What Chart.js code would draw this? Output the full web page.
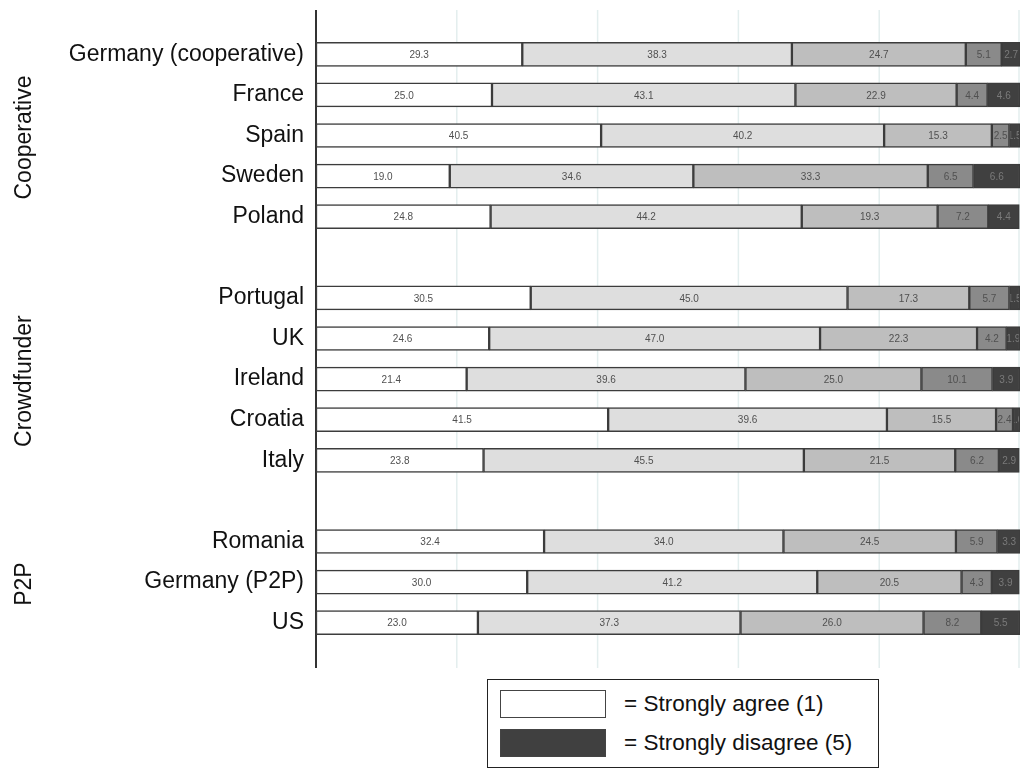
<!DOCTYPE html>
<html>
<head>
  <title>Agreement by platform</title>
  <script src="https://cdn.jsdelivr.net/npm/chart.js"></script>
  <style>
    body { margin:0; background:#fff; font-family:'Liberation Sans',Arial,sans-serif; }
    #wrap { position:relative; width:1020px; height:769px; }
    #legend { position:absolute; left:487px; top:679px; width:392px; height:89px;
              border:1.5px solid #222; box-sizing:border-box; background:#fff; }
    .item { position:absolute; left:12px; height:28px; display:flex; align-items:center; font-size:22.5px; color:#111; }
    .sw { width:104px; height:26px; border:1.5px solid #444; margin-right:18px; }
  </style>
</head>
<body>
<div id="wrap">
  <canvas id="chart" width="1020" height="769"></canvas>
  <div id="legend">
    <div class="item" style="top:10px"><span class="sw" style="background:#fff"></span>= Strongly agree (1)</div>
    <div class="item" style="top:49px"><span class="sw" style="background:#404040"></span>= Strongly disagree (5)</div>
  </div>
</div>
<script>
  // rows, '' = spacer between groups
  const countries = ['Germany (cooperative)','France','Spain','Sweden','Poland','',
                     'Portugal','UK','Ireland','Croatia','Italy','',
                     'Romania','Germany (P2P)','US'];
  const groups = [['Cooperative','Spain'],['Crowdfunder','Ireland'],['P2P','Germany (P2P)']];

  const agree1 = [29.3,25.0,40.5,19.0,24.8,null,30.5,24.6,21.4,41.5,23.8,null,32.4,30.0,23.0];
  const level2 = [38.3,43.1,40.2,34.6,44.2,null,45.0,47.0,39.6,39.6,45.5,null,34.0,41.2,37.3];
  const level3 = [24.7,22.9,15.3,33.3,19.3,null,17.3,22.3,25.0,15.5,21.5,null,24.5,20.5,26.0];
  const level4 = [5.1,4.4,2.5,6.5,7.2,null,5.7,4.2,10.1,2.4,6.2,null,5.9,4.3,8.2];
  const disagree5 = [2.7,4.6,1.5,6.6,4.4,null,1.5,1.9,3.9,1.0,2.9,null,3.3,3.9,5.5];

  const fills = ['#ffffff','#dedede','#bebebe','#8a8a8a','#404040'];
  const textCols = ['#505050','#505050','#505050','#505050','#7a7a7a'];
  const series = [agree1, level2, level3, level4, disagree5];

  const AXIS_TOP = 10, AXIS_BOTTOM = 668;
  const FONT = '"Liberation Sans", Arial, sans-serif';

  // vertical grid + axis line over full height, value labels, group titles
  const frame = {
    id:'frame',
    beforeDatasetsDraw(c) {
      const ctx = c.ctx, x = c.scales.x;
      ctx.save();
      ctx.strokeStyle = '#e3eeee'; ctx.lineWidth = 1.5;
      [20,40,60,80,100].forEach(v => {
        const px = Math.min(x.getPixelForValue(v), c.width - 1);
        ctx.beginPath(); ctx.moveTo(px, AXIS_TOP); ctx.lineTo(px, AXIS_BOTTOM); ctx.stroke();
      });
      ctx.strokeStyle = '#333'; ctx.lineWidth = 2;
      const x0 = x.getPixelForValue(0);
      ctx.beginPath(); ctx.moveTo(x0, AXIS_TOP); ctx.lineTo(x0, AXIS_BOTTOM); ctx.stroke();
      ctx.restore();
    },
    afterDatasetsDraw(c) {
      const ctx = c.ctx;
      ctx.save();
      ctx.font = '10px ' + FONT;
      ctx.textAlign = 'center'; ctx.textBaseline = 'middle';
      c.data.datasets.forEach((ds, di) => {
        ctx.fillStyle = textCols[di];
        c.getDatasetMeta(di).data.forEach((bar, i) => {
          const v = ds.data[i];
          if (v == null) return;
          const left = Math.min(bar.x, bar.base), right = Math.max(bar.x, bar.base);
          ctx.save();
          ctx.beginPath(); ctx.rect(left + 1, bar.y - 12, right - left - 2, 24); ctx.clip();
          ctx.fillText(v.toFixed(1), (left + right) / 2, bar.y + 1);
          ctx.restore();
        });
      });
      const y = c.scales.y;
      ctx.font = '23px ' + FONT;
      ctx.fillStyle = '#111';
      groups.forEach(([name, mid]) => {
        const py = y.getPixelForValue(countries.indexOf(mid));
        ctx.save(); ctx.translate(25, py + 2); ctx.rotate(-Math.PI / 2);
        ctx.fillText(name, 0, 0);
        ctx.restore();
      });
      ctx.restore();
    }
  };

  new Chart(document.getElementById('chart'), {
    type: 'bar',
    data: {
      labels: countries,
      datasets: series.map((d, k) => ({
        data: d, backgroundColor: fills[k], borderColor: '#3c3c3c',
        borderWidth: 1.5, borderSkipped: false, barThickness: 24
      }))
    },
    options: {
      indexAxis: 'y', responsive: false, animation: false, devicePixelRatio: 1,
      layout: { padding: { top: 34, bottom: 126, right: 0 } },
      plugins: { legend: { display: false }, tooltip: { enabled: false } },
      scales: {
        x: { stacked: true, min: 0, max: 100, display: false },
        y: {
          stacked: true,
          afterFit: s => { s.width = 316; },
          grid: { display: false }, border: { display: false },
          ticks: { color: '#111', padding: 4, font: { size: 23, family: FONT } }
        }
      }
    },
    plugins: [frame]
  });
</script>
</body>
</html>
